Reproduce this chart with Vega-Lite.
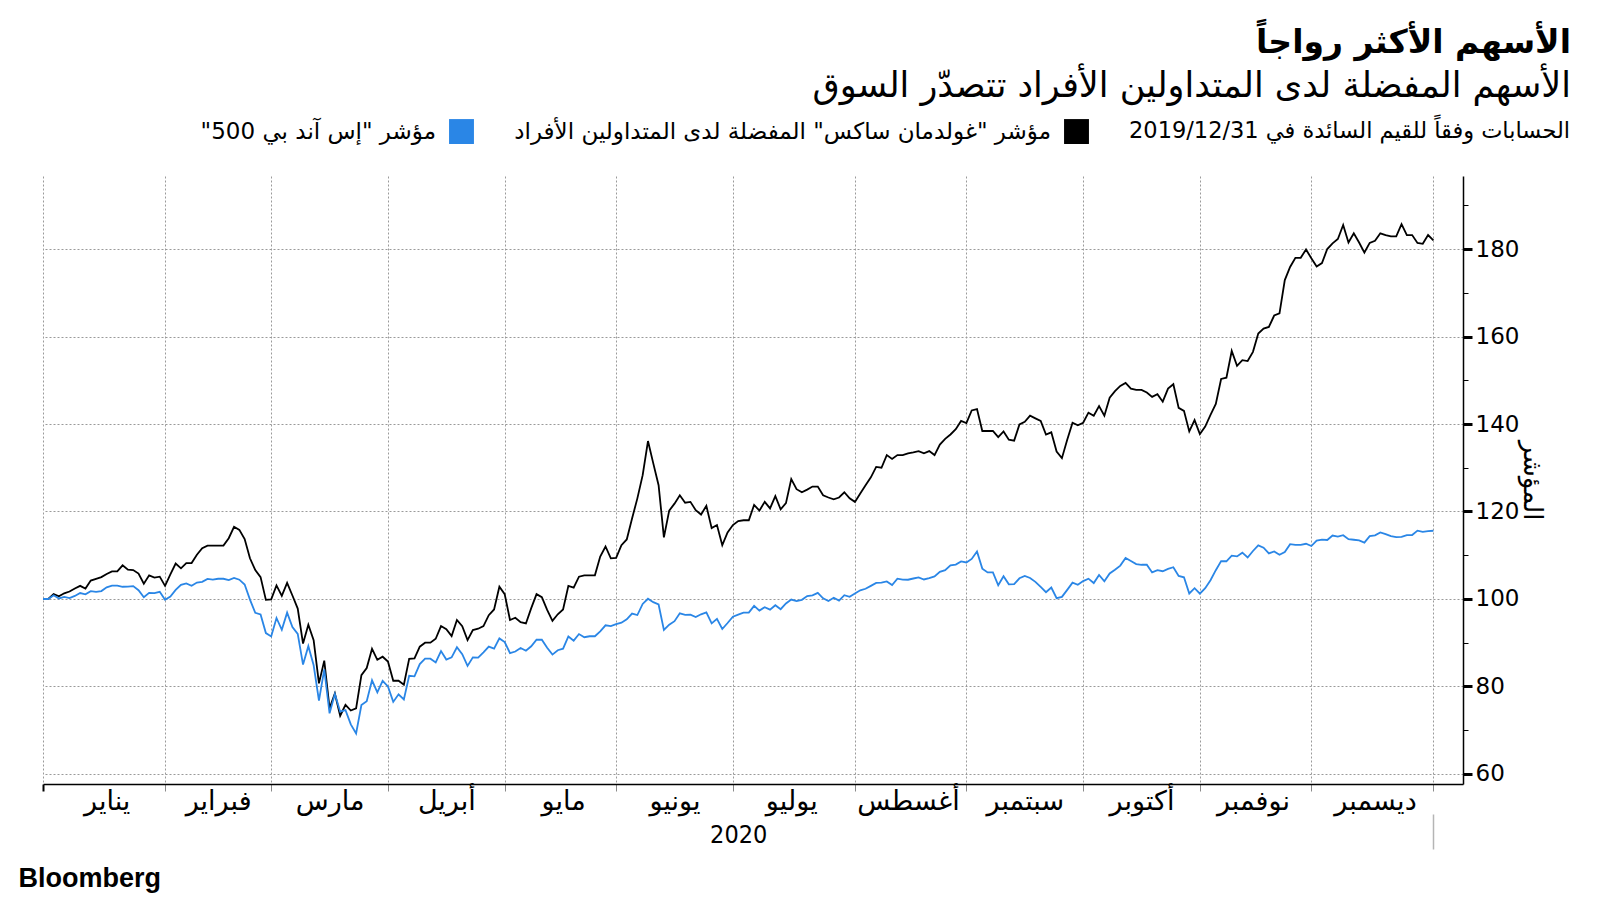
{
  "$schema": "https://vega.github.io/schema/vega-lite/v6.json",
  "autosize": {"type": "none"},
  "padding": {"left": 43, "top": 176, "right": 137, "bottom": 116},
  "width": 1420,
  "height": 608,
  "background": "#ffffff",
  "config": {"view": {"stroke": null}},
  "title": {
    "text": "الأسهم الأكثر رواجاً",
    "subtitle": "الأسهم المفضلة لدى المتداولين الأفراد تتصدّر السوق",
    "anchor": "end",
    "frame": "group",
    "dx": 108,
    "offset": 15,
    "font": "DejaVu Sans",
    "fontSize": 33,
    "fontWeight": "bold",
    "color": "#000000",
    "subtitleFont": "DejaVu Sans",
    "subtitleFontSize": 35,
    "subtitleColor": "#000000",
    "subtitlePadding": 9
  },
  "data": {
    "values": [
      {"d": "2019-12-31", "gs": 100, "spx": 100},
      {"d": "2020-01-01", "gs": 100, "spx": 100},
      {"d": "2020-01-02", "gs": 101.1, "spx": 100.84},
      {"d": "2020-01-03", "gs": 100.6, "spx": 100.13},
      {"d": "2020-01-06", "gs": 101.3, "spx": 100.48},
      {"d": "2020-01-07", "gs": 101.7, "spx": 100.2},
      {"d": "2020-01-08", "gs": 102.4, "spx": 100.69},
      {"d": "2020-01-09", "gs": 103.0, "spx": 101.36},
      {"d": "2020-01-10", "gs": 102.4, "spx": 101.07},
      {"d": "2020-01-13", "gs": 104.2, "spx": 101.78},
      {"d": "2020-01-14", "gs": 104.6, "spx": 101.62},
      {"d": "2020-01-15", "gs": 105.0, "spx": 101.81},
      {"d": "2020-01-16", "gs": 105.7, "spx": 102.66},
      {"d": "2020-01-17", "gs": 106.3, "spx": 103.06},
      {"d": "2020-01-20", "gs": 106.3, "spx": 103.06},
      {"d": "2020-01-21", "gs": 107.7, "spx": 102.79},
      {"d": "2020-01-22", "gs": 106.7, "spx": 102.82},
      {"d": "2020-01-23", "gs": 106.6, "spx": 102.93},
      {"d": "2020-01-24", "gs": 105.8, "spx": 102.0},
      {"d": "2020-01-27", "gs": 103.5, "spx": 100.4},
      {"d": "2020-01-28", "gs": 105.4, "spx": 101.41},
      {"d": "2020-01-29", "gs": 104.9, "spx": 101.32},
      {"d": "2020-01-30", "gs": 105.1, "spx": 101.64},
      {"d": "2020-01-31", "gs": 103.0, "spx": 99.84},
      {"d": "2020-02-03", "gs": 105.6, "spx": 100.56},
      {"d": "2020-02-04", "gs": 108.1, "spx": 102.07},
      {"d": "2020-02-05", "gs": 107.0, "spx": 103.22},
      {"d": "2020-02-06", "gs": 108.2, "spx": 103.56},
      {"d": "2020-02-07", "gs": 108.2, "spx": 103.0},
      {"d": "2020-02-10", "gs": 110.1, "spx": 103.75},
      {"d": "2020-02-11", "gs": 111.6, "spx": 103.93},
      {"d": "2020-02-12", "gs": 112.2, "spx": 104.6},
      {"d": "2020-02-13", "gs": 112.2, "spx": 104.43},
      {"d": "2020-02-14", "gs": 112.2, "spx": 104.62},
      {"d": "2020-02-17", "gs": 112.2, "spx": 104.62},
      {"d": "2020-02-18", "gs": 113.9, "spx": 104.32},
      {"d": "2020-02-19", "gs": 116.5, "spx": 104.81},
      {"d": "2020-02-20", "gs": 115.8, "spx": 104.41},
      {"d": "2020-02-21", "gs": 113.7, "spx": 103.31},
      {"d": "2020-02-24", "gs": 109.3, "spx": 99.85},
      {"d": "2020-02-25", "gs": 106.6, "spx": 96.82},
      {"d": "2020-02-26", "gs": 105.0, "spx": 96.46},
      {"d": "2020-02-27", "gs": 99.8, "spx": 92.2},
      {"d": "2020-02-28", "gs": 99.9, "spx": 91.44},
      {"d": "2020-03-02", "gs": 103.1, "spx": 95.65},
      {"d": "2020-03-03", "gs": 100.7, "spx": 92.96},
      {"d": "2020-03-04", "gs": 103.7, "spx": 96.88},
      {"d": "2020-03-05", "gs": 100.8, "spx": 93.6},
      {"d": "2020-03-06", "gs": 97.8, "spx": 92.0},
      {"d": "2020-03-09", "gs": 89.8, "spx": 85.01},
      {"d": "2020-03-10", "gs": 94.1, "spx": 89.21},
      {"d": "2020-03-11", "gs": 90.6, "spx": 84.85},
      {"d": "2020-03-12", "gs": 80.7, "spx": 76.78},
      {"d": "2020-03-13", "gs": 85.9, "spx": 83.91},
      {"d": "2020-03-16", "gs": 75.0, "spx": 73.86},
      {"d": "2020-03-17", "gs": 78.4, "spx": 78.28},
      {"d": "2020-03-18", "gs": 73.3, "spx": 74.23},
      {"d": "2020-03-19", "gs": 75.8, "spx": 74.58},
      {"d": "2020-03-20", "gs": 74.5, "spx": 71.34},
      {"d": "2020-03-23", "gs": 75.0, "spx": 69.25},
      {"d": "2020-03-24", "gs": 82.6, "spx": 75.75},
      {"d": "2020-03-25", "gs": 84.2, "spx": 76.62},
      {"d": "2020-03-26", "gs": 88.6, "spx": 81.41},
      {"d": "2020-03-27", "gs": 86.1, "spx": 78.66},
      {"d": "2020-03-30", "gs": 86.8, "spx": 81.3},
      {"d": "2020-03-31", "gs": 85.7, "spx": 80.0},
      {"d": "2020-04-01", "gs": 81.3, "spx": 76.47},
      {"d": "2020-04-02", "gs": 81.3, "spx": 78.21},
      {"d": "2020-04-03", "gs": 80.4, "spx": 77.03},
      {"d": "2020-04-06", "gs": 86.3, "spx": 82.45},
      {"d": "2020-04-07", "gs": 86.4, "spx": 82.31},
      {"d": "2020-04-08", "gs": 89.1, "spx": 85.12},
      {"d": "2020-04-09", "gs": 90.0, "spx": 86.35},
      {"d": "2020-04-10", "gs": 90.0, "spx": 86.35},
      {"d": "2020-04-13", "gs": 90.9, "spx": 85.48},
      {"d": "2020-04-14", "gs": 93.8, "spx": 88.09},
      {"d": "2020-04-15", "gs": 93.1, "spx": 86.15},
      {"d": "2020-04-16", "gs": 91.5, "spx": 86.65},
      {"d": "2020-04-17", "gs": 95.2, "spx": 88.97},
      {"d": "2020-04-20", "gs": 93.8, "spx": 87.38},
      {"d": "2020-04-21", "gs": 90.6, "spx": 84.7},
      {"d": "2020-04-22", "gs": 92.9, "spx": 86.65},
      {"d": "2020-04-23", "gs": 93.2, "spx": 86.6},
      {"d": "2020-04-24", "gs": 93.8, "spx": 87.8},
      {"d": "2020-04-27", "gs": 96.3, "spx": 89.1},
      {"d": "2020-04-28", "gs": 97.6, "spx": 88.63},
      {"d": "2020-04-29", "gs": 102.8, "spx": 90.98},
      {"d": "2020-04-30", "gs": 101.1, "spx": 90.15},
      {"d": "2020-05-01", "gs": 95.2, "spx": 87.62},
      {"d": "2020-05-04", "gs": 95.7, "spx": 87.99},
      {"d": "2020-05-05", "gs": 94.7, "spx": 88.78},
      {"d": "2020-05-06", "gs": 94.4, "spx": 88.16},
      {"d": "2020-05-07", "gs": 97.9, "spx": 89.18},
      {"d": "2020-05-08", "gs": 101.1, "spx": 90.68},
      {"d": "2020-05-11", "gs": 100.4, "spx": 90.7},
      {"d": "2020-05-12", "gs": 97.5, "spx": 88.84},
      {"d": "2020-05-13", "gs": 95.0, "spx": 87.29},
      {"d": "2020-05-14", "gs": 96.5, "spx": 88.29},
      {"d": "2020-05-15", "gs": 97.6, "spx": 88.64},
      {"d": "2020-05-18", "gs": 103.0, "spx": 91.43},
      {"d": "2020-05-19", "gs": 102.6, "spx": 90.47},
      {"d": "2020-05-20", "gs": 105.1, "spx": 91.98},
      {"d": "2020-05-21", "gs": 105.4, "spx": 91.26},
      {"d": "2020-05-22", "gs": 105.4, "spx": 91.48},
      {"d": "2020-05-25", "gs": 105.4, "spx": 91.48},
      {"d": "2020-05-26", "gs": 109.7, "spx": 92.6},
      {"d": "2020-05-27", "gs": 112.0, "spx": 93.98},
      {"d": "2020-05-28", "gs": 109.3, "spx": 93.78},
      {"d": "2020-05-29", "gs": 109.4, "spx": 94.23},
      {"d": "2020-06-01", "gs": 112.3, "spx": 94.58},
      {"d": "2020-06-02", "gs": 113.6, "spx": 95.36},
      {"d": "2020-06-03", "gs": 118.4, "spx": 96.66},
      {"d": "2020-06-04", "gs": 123.0, "spx": 96.33},
      {"d": "2020-06-05", "gs": 128.3, "spx": 98.86},
      {"d": "2020-06-08", "gs": 136.1, "spx": 100.05},
      {"d": "2020-06-09", "gs": 131.0, "spx": 99.27},
      {"d": "2020-06-10", "gs": 126.0, "spx": 98.74},
      {"d": "2020-06-11", "gs": 114.1, "spx": 92.92},
      {"d": "2020-06-12", "gs": 120.2, "spx": 94.13},
      {"d": "2020-06-15", "gs": 121.8, "spx": 94.92},
      {"d": "2020-06-16", "gs": 123.7, "spx": 96.72},
      {"d": "2020-06-17", "gs": 122.0, "spx": 96.37},
      {"d": "2020-06-18", "gs": 122.2, "spx": 96.43},
      {"d": "2020-06-19", "gs": 120.3, "spx": 95.88},
      {"d": "2020-06-22", "gs": 119.3, "spx": 96.5},
      {"d": "2020-06-23", "gs": 121.3, "spx": 96.92},
      {"d": "2020-06-24", "gs": 116.2, "spx": 94.41},
      {"d": "2020-06-25", "gs": 116.9, "spx": 95.45},
      {"d": "2020-06-26", "gs": 112.3, "spx": 93.14},
      {"d": "2020-06-29", "gs": 115.2, "spx": 94.5},
      {"d": "2020-06-30", "gs": 116.9, "spx": 95.96},
      {"d": "2020-07-01", "gs": 117.8, "spx": 96.44},
      {"d": "2020-07-02", "gs": 118.0, "spx": 96.88},
      {"d": "2020-07-03", "gs": 118.0, "spx": 96.88},
      {"d": "2020-07-06", "gs": 121.5, "spx": 98.42},
      {"d": "2020-07-07", "gs": 120.2, "spx": 97.35},
      {"d": "2020-07-08", "gs": 122.2, "spx": 98.12},
      {"d": "2020-07-09", "gs": 120.7, "spx": 97.56},
      {"d": "2020-07-10", "gs": 123.5, "spx": 98.58},
      {"d": "2020-07-13", "gs": 120.5, "spx": 97.66},
      {"d": "2020-07-14", "gs": 121.9, "spx": 98.97},
      {"d": "2020-07-15", "gs": 127.4, "spx": 99.87},
      {"d": "2020-07-16", "gs": 125.1, "spx": 99.53},
      {"d": "2020-07-17", "gs": 124.4, "spx": 99.81},
      {"d": "2020-07-20", "gs": 125.0, "spx": 100.65},
      {"d": "2020-07-21", "gs": 125.7, "spx": 100.82},
      {"d": "2020-07-22", "gs": 125.7, "spx": 101.4},
      {"d": "2020-07-23", "gs": 123.7, "spx": 100.15},
      {"d": "2020-07-24", "gs": 123.2, "spx": 99.53},
      {"d": "2020-07-27", "gs": 122.8, "spx": 100.27},
      {"d": "2020-07-28", "gs": 123.2, "spx": 99.62},
      {"d": "2020-07-29", "gs": 124.4, "spx": 100.86},
      {"d": "2020-07-30", "gs": 123.0, "spx": 100.48},
      {"d": "2020-07-31", "gs": 122.2, "spx": 101.25},
      {"d": "2020-08-03", "gs": 124.1, "spx": 101.98},
      {"d": "2020-08-04", "gs": 126.0, "spx": 102.34},
      {"d": "2020-08-05", "gs": 127.8, "spx": 103.0},
      {"d": "2020-08-06", "gs": 130.2, "spx": 103.66},
      {"d": "2020-08-07", "gs": 130.0, "spx": 103.73},
      {"d": "2020-08-10", "gs": 132.9, "spx": 104.01},
      {"d": "2020-08-11", "gs": 132.0, "spx": 103.19},
      {"d": "2020-08-12", "gs": 132.9, "spx": 104.63},
      {"d": "2020-08-13", "gs": 132.9, "spx": 104.42},
      {"d": "2020-08-14", "gs": 133.3, "spx": 104.4},
      {"d": "2020-08-17", "gs": 133.5, "spx": 104.68},
      {"d": "2020-08-18", "gs": 133.8, "spx": 104.92},
      {"d": "2020-08-19", "gs": 133.3, "spx": 104.46},
      {"d": "2020-08-20", "gs": 133.8, "spx": 104.79},
      {"d": "2020-08-21", "gs": 132.9, "spx": 105.15},
      {"d": "2020-08-24", "gs": 135.3, "spx": 106.21},
      {"d": "2020-08-25", "gs": 136.6, "spx": 106.59},
      {"d": "2020-08-26", "gs": 137.6, "spx": 107.67},
      {"d": "2020-08-27", "gs": 138.8, "spx": 107.86},
      {"d": "2020-08-28", "gs": 140.7, "spx": 108.58},
      {"d": "2020-08-31", "gs": 140.2, "spx": 108.34},
      {"d": "2020-09-01", "gs": 143.1, "spx": 109.16},
      {"d": "2020-09-02", "gs": 143.4, "spx": 110.84},
      {"d": "2020-09-03", "gs": 138.4, "spx": 106.94},
      {"d": "2020-09-04", "gs": 138.4, "spx": 106.07},
      {"d": "2020-09-07", "gs": 138.4, "spx": 106.07},
      {"d": "2020-09-08", "gs": 137.0, "spx": 103.13},
      {"d": "2020-09-09", "gs": 138.3, "spx": 105.21},
      {"d": "2020-09-10", "gs": 136.4, "spx": 103.36},
      {"d": "2020-09-11", "gs": 136.2, "spx": 103.41},
      {"d": "2020-09-14", "gs": 139.9, "spx": 104.73},
      {"d": "2020-09-15", "gs": 140.5, "spx": 105.27},
      {"d": "2020-09-16", "gs": 141.9, "spx": 104.79},
      {"d": "2020-09-17", "gs": 141.3, "spx": 103.91},
      {"d": "2020-09-18", "gs": 140.7, "spx": 102.75},
      {"d": "2020-09-21", "gs": 137.6, "spx": 101.56},
      {"d": "2020-09-22", "gs": 138.1, "spx": 102.62},
      {"d": "2020-09-23", "gs": 133.7, "spx": 100.19},
      {"d": "2020-09-24", "gs": 132.2, "spx": 100.49},
      {"d": "2020-09-25", "gs": 136.4, "spx": 102.09},
      {"d": "2020-09-28", "gs": 140.3, "spx": 103.74},
      {"d": "2020-09-29", "gs": 139.7, "spx": 103.24},
      {"d": "2020-09-30", "gs": 140.3, "spx": 104.09},
      {"d": "2020-10-01", "gs": 142.6, "spx": 104.64},
      {"d": "2020-10-02", "gs": 141.9, "spx": 103.64},
      {"d": "2020-10-05", "gs": 144.1, "spx": 105.5},
      {"d": "2020-10-06", "gs": 141.9, "spx": 104.03},
      {"d": "2020-10-07", "gs": 146.0, "spx": 105.84},
      {"d": "2020-10-08", "gs": 147.5, "spx": 106.69},
      {"d": "2020-10-09", "gs": 148.7, "spx": 107.63},
      {"d": "2020-10-12", "gs": 149.4, "spx": 109.39},
      {"d": "2020-10-13", "gs": 148.1, "spx": 108.7},
      {"d": "2020-10-14", "gs": 147.8, "spx": 107.98},
      {"d": "2020-10-15", "gs": 147.8, "spx": 107.82},
      {"d": "2020-10-16", "gs": 147.2, "spx": 107.83},
      {"d": "2020-10-19", "gs": 146.2, "spx": 106.07},
      {"d": "2020-10-20", "gs": 146.8, "spx": 106.57},
      {"d": "2020-10-21", "gs": 145.1, "spx": 106.34},
      {"d": "2020-10-22", "gs": 148.1, "spx": 106.89},
      {"d": "2020-10-23", "gs": 149.1, "spx": 107.26},
      {"d": "2020-10-26", "gs": 143.7, "spx": 105.27},
      {"d": "2020-10-27", "gs": 143.0, "spx": 104.95},
      {"d": "2020-10-28", "gs": 138.3, "spx": 101.25},
      {"d": "2020-10-29", "gs": 140.9, "spx": 102.46},
      {"d": "2020-10-30", "gs": 137.7, "spx": 101.21},
      {"d": "2020-11-02", "gs": 139.4, "spx": 102.46},
      {"d": "2020-11-03", "gs": 142.1, "spx": 104.28},
      {"d": "2020-11-04", "gs": 144.6, "spx": 106.58},
      {"d": "2020-11-05", "gs": 150.3, "spx": 108.66},
      {"d": "2020-11-06", "gs": 150.6, "spx": 108.62},
      {"d": "2020-11-09", "gs": 156.7, "spx": 109.9},
      {"d": "2020-11-10", "gs": 153.3, "spx": 109.74},
      {"d": "2020-11-11", "gs": 154.6, "spx": 110.58},
      {"d": "2020-11-12", "gs": 154.4, "spx": 109.48},
      {"d": "2020-11-13", "gs": 156.5, "spx": 110.97},
      {"d": "2020-11-16", "gs": 160.7, "spx": 112.26},
      {"d": "2020-11-17", "gs": 161.8, "spx": 111.72},
      {"d": "2020-11-18", "gs": 162.2, "spx": 110.43},
      {"d": "2020-11-19", "gs": 164.8, "spx": 110.87},
      {"d": "2020-11-20", "gs": 165.3, "spx": 110.11},
      {"d": "2020-11-23", "gs": 172.9, "spx": 110.73},
      {"d": "2020-11-24", "gs": 175.9, "spx": 112.52},
      {"d": "2020-11-25", "gs": 178.0, "spx": 112.35},
      {"d": "2020-11-26", "gs": 178.0, "spx": 112.35},
      {"d": "2020-11-27", "gs": 179.9, "spx": 112.62},
      {"d": "2020-11-30", "gs": 177.9, "spx": 112.1},
      {"d": "2020-12-01", "gs": 176.0, "spx": 113.36},
      {"d": "2020-12-02", "gs": 176.8, "spx": 113.56},
      {"d": "2020-12-03", "gs": 180.0, "spx": 113.49},
      {"d": "2020-12-04", "gs": 181.3, "spx": 114.5},
      {"d": "2020-12-07", "gs": 182.3, "spx": 114.27},
      {"d": "2020-12-08", "gs": 185.5, "spx": 114.59},
      {"d": "2020-12-09", "gs": 181.5, "spx": 113.68},
      {"d": "2020-12-10", "gs": 183.6, "spx": 113.54},
      {"d": "2020-12-11", "gs": 181.5, "spx": 113.39},
      {"d": "2020-12-14", "gs": 179.2, "spx": 112.9},
      {"d": "2020-12-15", "gs": 181.4, "spx": 114.36},
      {"d": "2020-12-16", "gs": 181.9, "spx": 114.56},
      {"d": "2020-12-17", "gs": 183.6, "spx": 115.22},
      {"d": "2020-12-18", "gs": 183.2, "spx": 114.81},
      {"d": "2020-12-21", "gs": 182.9, "spx": 114.37},
      {"d": "2020-12-22", "gs": 182.9, "spx": 114.13},
      {"d": "2020-12-23", "gs": 185.7, "spx": 114.21},
      {"d": "2020-12-24", "gs": 183.2, "spx": 114.62},
      {"d": "2020-12-25", "gs": 183.2, "spx": 114.62},
      {"d": "2020-12-28", "gs": 181.4, "spx": 115.62},
      {"d": "2020-12-29", "gs": 181.2, "spx": 115.36},
      {"d": "2020-12-30", "gs": 183.2, "spx": 115.52},
      {"d": "2020-12-31", "gs": 182.0, "spx": 115.6}
    ]
  },
  "resolve": {"axis": {"x": "independent"}},
  "layer": [
    {
      "mark": {"type": "line", "strokeWidth": 1.8, "interpolate": "linear"},
      "encoding": {
        "x": {
          "field": "d", "type": "ordinal",
          "scale": {
            "type": "point",
            "domain": {"unionWith": ["2021-01-01", "2021-01-04", "2021-01-05", "2021-01-06", "2021-01-07"]},
            "padding": 0.29,
            "align": 0
          },
          "axis": {
            "orient": "bottom",
            "values": ["2019-12-31","2020-01-31","2020-02-28","2020-03-31","2020-04-30","2020-05-29","2020-06-30","2020-07-31","2020-08-31","2020-09-30","2020-10-30","2020-11-30","2020-12-31",
                       "2020-01-16","2020-02-14","2020-03-16","2020-04-15","2020-05-15","2020-06-15","2020-07-15","2020-08-14","2020-09-15","2020-10-15","2020-11-13","2020-12-16"],
            "title": null,
            "domain": true,
            "domainColor": "#000000",
            "domainWidth": 1.5,
            "grid": true,
            "gridColor": "#9a9a9a",
            "gridDash": [2, 2],
            "gridWidth": 1,
            "gridOpacity": {"condition": {"test": "toNumber(substring(datum.value,8,10)) > 20", "value": 1}, "value": 0},
            "ticks": true,
            "tickOpacity": {"condition": {"test": "toNumber(substring(datum.value,8,10)) > 20", "value": 1}, "value": 0},
            "tickColor": {"condition": {"test": "datum.value == '2019-12-31'", "value": "#000000"}, "value": "#8a8a8a"},
            "tickSize": 7,
            "tickWidth": {"condition": {"test": "datum.value == '2019-12-31'", "value": 2}, "value": 1},
            "labelExpr": "toNumber(substring(datum.value,8,10)) > 20 ? '' : ['يناير','فبراير','مارس','أبريل','مايو','يونيو','يوليو','أغسطس','سبتمبر','أكتوبر','نوفمبر','ديسمبر'][toNumber(substring(datum.value,5,7))-1]",
            "labelFont": "DejaVu Sans",
            "labelFontSize": 27,
            "labelColor": "#000000",
            "labelAngle": 0,
            "labelPadding": -3,
            "labelOverlap": false,
            "labelBound": false,
            "labelLimit": 0
          }
        },
        "y": {
          "field": "gs", "type": "quantitative",
          "scale": {"domain": [57.7, 196.7], "nice": false, "zero": false},
          "axis": {
            "orient": "right",
            "values": [60, 70, 80, 90, 100, 110, 120, 130, 140, 150, 160, 170, 180, 190],
            "grid": true,
            "gridColor": "#9a9a9a",
            "gridDash": [2, 2],
            "gridWidth": 1,
            "gridOpacity": {"condition": {"test": "datum.value % 20 == 0", "value": 1}, "value": 0},
            "tickColor": "#000000",
            "tickSize": {"condition": {"test": "datum.value % 20 == 0", "value": 9}, "value": 5},
            "tickWidth": {"condition": {"test": "datum.value % 20 == 0", "value": 3}, "value": 1},
            "labelExpr": "datum.value % 20 == 0 ? datum.label : ''",
            "labelFont": "DejaVu Sans",
            "labelFontSize": 23,
            "labelColor": "#000000",
            "labelPadding": 3,
            "domainColor": "#000000",
            "domainWidth": 1.5,
            "title": "المؤشر",
            "titleFont": "DejaVu Sans",
            "titleFontSize": 26,
            "titleFontWeight": "normal",
            "titleColor": "#000000",
            "titleAngle": 90,
            "titlePadding": 0
          }
        },
        "color": {
          "datum": "مؤشر \"غولدمان ساكس\" المفضلة لدى المتداولين الأفراد",
          "scale": {
            "domain": ["مؤشر \"إس آند بي 500\"\u200f", "مؤشر \"غولدمان ساكس\" المفضلة لدى المتداولين الأفراد"],
            "range": ["#2a86e6", "#000000"]
          },
          "legend": {
            "orient": "none",
            "legendX": 406,
            "legendY": -57,
            "direction": "horizontal",
            "title": "الحسابات وفقاً للقيم السائدة في 2019/12/31",
            "titleOrient": "right",
            "titleFont": "DejaVu Sans",
            "titleFontSize": 22.5,
            "titleFontWeight": "normal",
            "titleColor": "#000000",
            "titlePadding": 40,
            "titleLimit": 0,
            "symbolType": "square",
            "symbolSize": 620,
            "symbolStrokeWidth": 0,
            "labelFont": "DejaVu Sans",
            "labelFontSize": 23,
            "labelColor": "#000000",
            "labelAlign": "right",
            "labelOffset": -38,
            "labelLimit": 0,
            "columnPadding": 40,
            "encode": {
              "symbols": {"update": {"fill": {"scale": "color", "field": "value"}, "stroke": {"scale": "color", "field": "value"}, "opacity": {"value": 1}}}
            }
          }
        }
      }
    },
    {
      "mark": {"type": "line", "strokeWidth": 1.8, "interpolate": "linear"},
      "encoding": {
        "x": {
          "field": "d", "type": "ordinal",
          "axis": {
            "orient": "bottom",
            "offset": 30,
            "values": ["2020-07-01", "2020-12-31"],
            "domain": false,
            "grid": false,
            "ticks": true,
            "tickSize": 35,
            "tickColor": "#b5b5b5",
            "tickWidth": 1.5,
            "tickOpacity": {"condition": {"test": "datum.value == '2020-12-31'", "value": 1}, "value": 0},
            "labelExpr": "datum.value == '2020-07-01' ? '2020' : ''",
            "labelFont": "DejaVu Sans Condensed",
            "labelFontSize": 25,
            "labelColor": "#000000",
            "labelAngle": 0,
            "labelPadding": -27,
            "labelOverlap": false,
            "labelBound": false,
            "title": "Bloomberg",
            "titleFont": "Liberation Sans",
            "titleFontWeight": "bold",
            "titleFontSize": 27,
            "titleColor": "#000000",
            "titleAngle": 0,
            "titleAlign": "left",
            "titleBaseline": "alphabetic",
            "titleX": -25,
            "titleY": 72
          }
        },
        "y": {
          "field": "spx", "type": "quantitative",
          "axis": {
            "orient": "right",
            "values": [60, 70, 80, 90, 100, 110, 120, 130, 140, 150, 160, 170, 180, 190],
            "grid": true,
            "gridColor": "#9a9a9a",
            "gridDash": [2, 2],
            "gridWidth": 1,
            "gridOpacity": {"condition": {"test": "datum.value % 20 == 0", "value": 1}, "value": 0},
            "tickColor": "#000000",
            "tickSize": {"condition": {"test": "datum.value % 20 == 0", "value": 9}, "value": 5},
            "tickWidth": {"condition": {"test": "datum.value % 20 == 0", "value": 3}, "value": 1},
            "labelExpr": "datum.value % 20 == 0 ? datum.label : ''",
            "labelFont": "DejaVu Sans",
            "labelFontSize": 23,
            "labelColor": "#000000",
            "labelPadding": 3,
            "domainColor": "#000000",
            "domainWidth": 1.5,
            "title": "المؤشر",
            "titleFont": "DejaVu Sans",
            "titleFontSize": 26,
            "titleFontWeight": "normal",
            "titleColor": "#000000",
            "titleAngle": 90,
            "titlePadding": 0
          }
        },
        "color": {"datum": "مؤشر \"إس آند بي 500\"\u200f"}
      }
    }
  ]
}
